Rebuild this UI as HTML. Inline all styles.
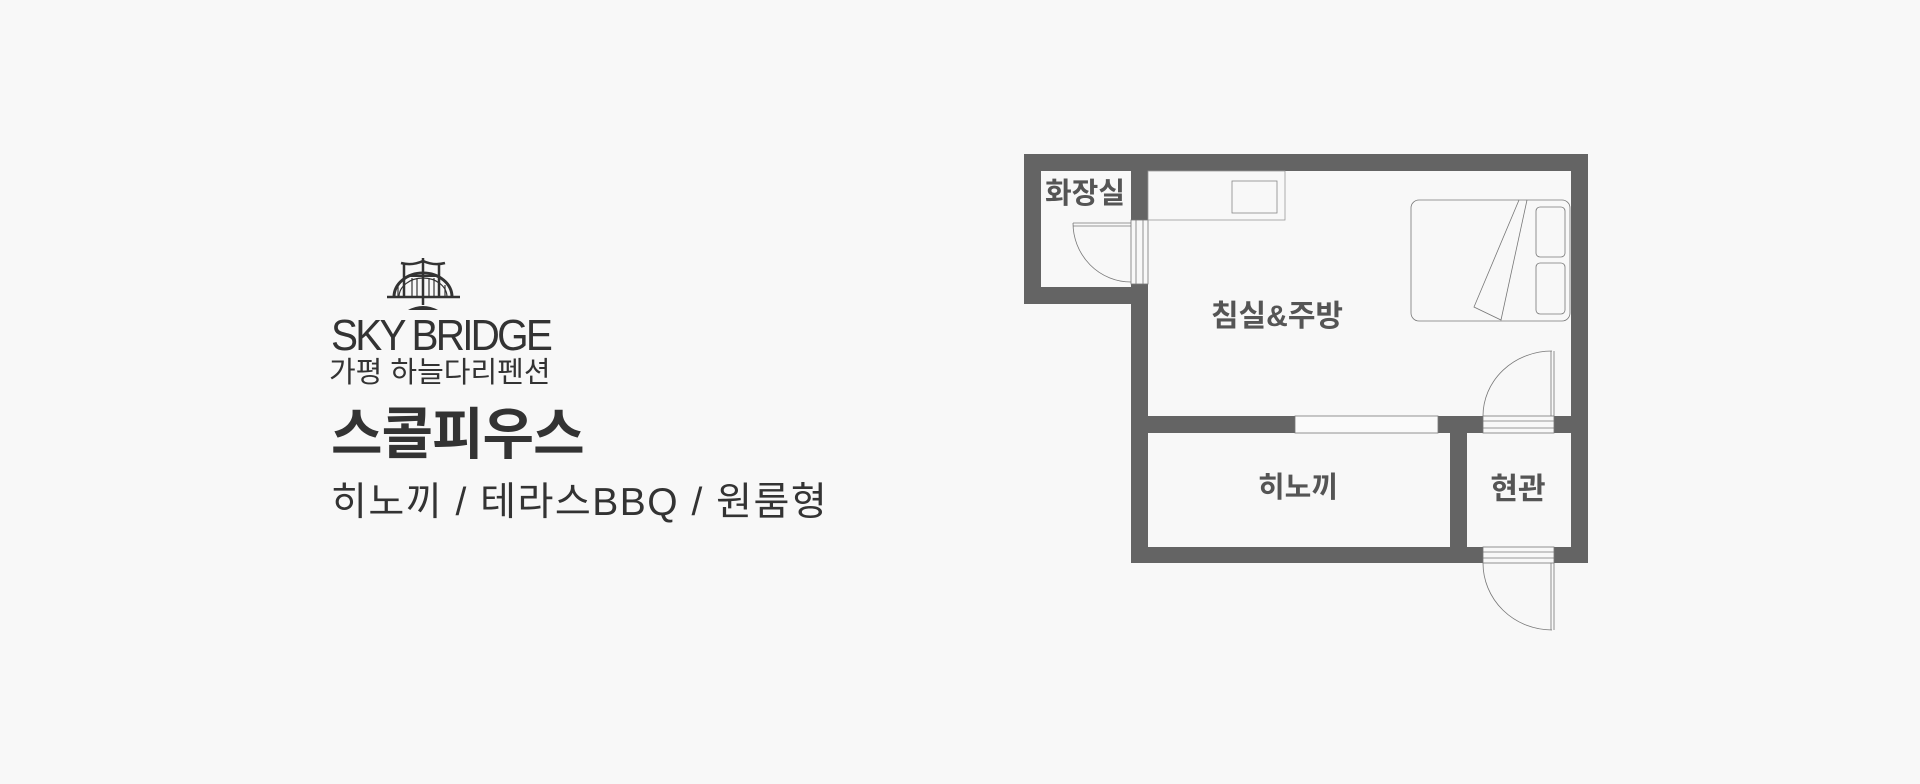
<!DOCTYPE html>
<html><head><meta charset="utf-8"><style>
html,body{margin:0;padding:0;background:#f8f8f8;}
body{width:1920px;height:784px;position:relative;overflow:hidden;font-family:"Liberation Sans","Noto Sans CJK KR",sans-serif;}
.t{position:absolute;white-space:nowrap;color:#333;}
</style></head><body>
<svg width="1920" height="784" style="position:absolute;left:0;top:0">
<!-- logo -->
<g stroke="#333" fill="none">
<path d="M394 297 A29 24 0 0 1 452 297" stroke-width="3"/>
<path d="M399 297 A24 19 0 0 1 447 297" stroke-width="1.2"/>
<line x1="387" y1="297" x2="460" y2="297" stroke-width="2.5"/>
<path d="M401 263 Q412 266 423 261 Q434 266 445 263" stroke-width="2.5"/>
<line x1="404" y1="263" x2="404" y2="297" stroke-width="2.5"/>
<line x1="423" y1="258" x2="423" y2="305" stroke-width="2.5"/>
<line x1="439" y1="263" x2="439" y2="297" stroke-width="2.5"/>
<line x1="410" y1="276" x2="438" y2="276" stroke-width="2"/>
<g stroke-width="1.2"><line x1="412" y1="278" x2="412" y2="297"/><line x1="417" y1="278" x2="417" y2="297"/><line x1="429" y1="278" x2="429" y2="297"/><line x1="434" y1="278" x2="434" y2="297"/><line x1="398" y1="285" x2="398" y2="297"/><line x1="445" y1="285" x2="445" y2="297"/></g>
</g>
<path d="M408 310 Q423 302 438 310 Z" fill="#333"/>
<!-- floor plan walls -->
<g fill="#646464">
<rect x="1024" y="154" width="564" height="17"/>
<rect x="1024" y="154" width="17" height="150"/>
<rect x="1024" y="287" width="123" height="17"/>
<rect x="1131" y="154" width="17" height="409"/>
<rect x="1571" y="154" width="17" height="409"/>
<rect x="1131" y="547" width="457" height="16"/>
<rect x="1131" y="416" width="457" height="17"/>
<rect x="1450" y="416" width="17" height="147"/>
</g>
<g fill="#f8f8f8" stroke="#777" stroke-width="0.8">
<rect x="1131" y="220" width="17" height="64"/>
<rect x="1295" y="416" width="143" height="17" fill="#fafafa"/>
<rect x="1483" y="416" width="71" height="17"/>
<rect x="1483" y="547" width="71" height="16"/>
</g>
<g stroke="#777" stroke-width="0.8" fill="none">
<line x1="1136" y1="220" x2="1136" y2="284"/><line x1="1143" y1="220" x2="1143" y2="284"/>
<line x1="1483" y1="421" x2="1554" y2="421"/><line x1="1483" y1="428" x2="1554" y2="428"/>
<line x1="1483" y1="552" x2="1554" y2="552"/><line x1="1483" y1="558" x2="1554" y2="558"/>
<line x1="1073" y1="223" x2="1131" y2="223"/><line x1="1073" y1="226" x2="1131" y2="226"/>
<path d="M1073 223 A58 59 0 0 0 1131 282"/>
<line x1="1551" y1="351" x2="1551" y2="416"/><line x1="1554" y1="351" x2="1554" y2="416"/>
<path d="M1552 351 A69 65 0 0 0 1483 416"/>
<line x1="1551" y1="563" x2="1551" y2="630"/><line x1="1554" y1="563" x2="1554" y2="630"/>
<path d="M1483 563 A69 67 0 0 0 1552 630"/>
<rect x="1148" y="171" width="137" height="49" stroke="#999"/>
<rect x="1232" y="181" width="45" height="32" stroke="#888"/>
<rect x="1411" y="200" width="159" height="121" rx="8"/>
<rect x="1536" y="207" width="29" height="50" rx="4"/>
<rect x="1536" y="263" width="29" height="51" rx="4"/>
<path d="M1519 200 L1474 307 L1501 320 L1527 200"/>
</g>
<g font-family="Liberation Sans, Noto Sans CJK KR, sans-serif" font-weight="bold" fill="#555" text-anchor="middle">
<text x="1085" y="203" font-size="29">화장실</text>
<text x="1277" y="326" font-size="30">침실&amp;주방</text>
<text x="1298" y="497" font-size="29" font-weight="600">히노끼</text>
<text x="1518" y="499" font-size="30">현관</text>
</g>
</svg>
<div class="t" style="left:331px;top:311px;font-size:44px;letter-spacing:-3px;line-height:50px;transform:scaleX(0.92);transform-origin:left;">SKY BRIDGE</div>
<div class="t" style="left:329px;top:355px;font-size:29px;letter-spacing:0;line-height:36px;">가평 하늘다리펜션</div>
<div class="t" style="left:331px;top:398px;font-size:56px;font-weight:bold;letter-spacing:-1px;line-height:74px;">스콜피우스</div>
<div class="t" style="left:331px;top:478px;font-size:39px;letter-spacing:1.5px;line-height:50px;">히노끼 / 테라스BBQ / 원룸형</div>
</body></html>
